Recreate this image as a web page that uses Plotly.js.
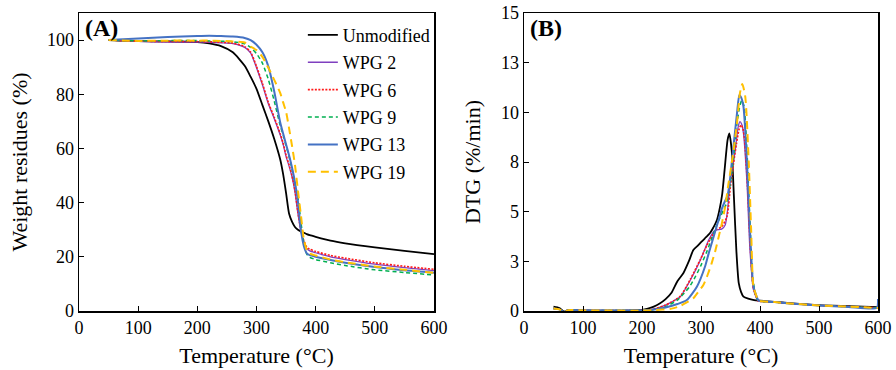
<!DOCTYPE html>
<html>
<head>
<meta charset="utf-8">
<script src="https://cdn.plot.ly/plotly-3.0.1.min.js"></script>
<style>html,body{margin:0;padding:0;background:#fff;}#chart{width:896px;height:370px;}</style>
</head>
<body>
<div id="chart"></div>
<script>
// ---------- Series names ----------
const seriesNames = ['Unmodified', 'WPG 2', 'WPG 6', 'WPG 9', 'WPG 13', 'WPG 19'];

// ---------- Panel A: TGA weight residues (%) ----------
const tgaTemp = [50, 100, 150, 200, 220, 240, 260, 280, 290, 300, 310, 320, 330, 340, 345, 350, 355, 360, 365, 370, 375, 380, 385, 390, 400, 425, 450, 500, 550, 600];
const tgaUnmod = [100, 99.6, 99.5, 99.3, 98.8, 97.8, 95.5, 90.5, 86.5, 82, 76, 70, 63.5, 56, 50.5, 43.5, 36, 33, 31, 30, 29.4, 28.9, 28.4, 28.0, 27.4, 26, 25, 23.5, 22.2, 21];
const tgaWpg2 = [100, 99.5, 99.3, 99.3, 99.2, 99, 98.7, 97.3, 95.3, 89.8, 83.5, 76.5, 71, 65, 61.5, 57, 53.5, 49.5, 44, 36, 29.5, 25.5, 23, 22.2, 21.5, 20, 19, 17.3, 16, 14.9];
const tgaWpg6 = [100, 99.6, 99.5, 99.5, 99.4, 99.2, 98.9, 97.6, 95.6, 90.3, 84, 77, 71.5, 65.5, 62, 57.5, 54, 50, 44.5, 36.5, 30, 26, 23.5, 22.8, 22, 20.5, 19.5, 17.8, 16.5, 15.4];
const tgaWpg9 = [100, 99.7, 99.8, 99.8, 99.7, 99.6, 99.4, 98.6, 97.3, 95, 91.5, 85.5, 77.5, 68.5, 65, 61, 57, 52.5, 47, 42, 33, 25, 21, 19.8, 19, 17.8, 16.8, 15.2, 14.2, 13.3];
const tgaWpg13 = [100, 100.6, 101.1, 101.5, 101.6, 101.5, 101.3, 100.8, 100, 98.3, 95.5, 90.3, 81, 69.7, 65.5, 61.5, 57.5, 53, 47.5, 40.5, 30, 24, 21.3, 20.6, 20, 18.8, 17.8, 16.2, 15, 14.1];
const tgaWpg19 = [100, 99.7, 99.8, 99.8, 99.8, 99.7, 99.5, 99.1, 97.6, 96.3, 93.8, 89.8, 85.3, 80.5, 77, 73.5, 67.5, 61, 54, 44.5, 35.5, 26.5, 22.5, 21.2, 20.5, 19, 18, 16.4, 15.2, 14.1];

// ---------- Panel B: DTG (%/min) ----------
const dtgUnmodT = [50, 60, 68, 75, 100, 150, 200, 210, 220, 230, 240, 250, 260, 270, 280, 287, 295, 301, 308, 315, 320, 327, 332, 336, 340, 345, 348, 352, 356, 360, 364, 368, 372, 380, 390, 400, 425, 450, 500, 550, 600];
const dtgUnmod = [0.22, 0.15, -0.03, 0.05, 0.03, 0.02, 0.06, 0.12, 0.22, 0.38, 0.6, 0.92, 1.5, 1.9, 2.55, 3.07, 3.3, 3.49, 3.7, 3.91, 4.15, 4.58, 5.2, 5.9, 7.1, 8.6, 8.94, 8.1, 5.6, 3.0, 1.4, 0.95, 0.72, 0.62, 0.55, 0.52, 0.46, 0.4, 0.3, 0.25, 0.2];

const dtgWpg2T = [50, 60, 68, 75, 100, 150, 200, 220, 240, 250, 265, 282, 299, 313, 322, 327, 335, 341, 345, 349, 354, 358, 363, 366, 369, 372, 378, 383, 389, 397, 400, 425, 450, 500, 550, 600];
const dtgWpg2 = [0.13, 0.08, -0.05, 0.04, 0.03, 0.02, 0.03, 0.1, 0.3, 0.45, 0.72, 1.56, 2.57, 3.57, 4.02, 4.08, 4.12, 4.33, 5.08, 6.42, 7.3, 8.1, 9.27, 9.53, 9.4, 8.94, 6.42, 3.07, 1.06, 0.5, 0.48, 0.45, 0.38, 0.28, 0.22, 0.16];

const dtgWpg6T = [50, 60, 68, 75, 100, 150, 200, 220, 240, 250, 265, 282, 299, 310, 318, 326, 335, 344, 350, 355, 360, 365, 368, 371, 374, 379, 384, 389, 397, 400, 425, 450, 500, 550, 600];
const dtgWpg6 = [0.12, 0.08, -0.05, 0.04, 0.03, 0.02, 0.03, 0.1, 0.3, 0.45, 0.75, 1.6, 2.6, 3.3, 3.74, 4.1, 4.24, 4.75, 6.3, 7.4, 8.4, 9.2, 9.36, 9.2, 8.6, 6.2, 3.0, 1.1, 0.5, 0.48, 0.45, 0.38, 0.28, 0.22, 0.16];

const dtgWpg9T = [50, 60, 68, 75, 100, 150, 200, 220, 240, 260, 280, 290, 300, 310, 320, 327, 333, 338, 343, 350, 355, 360, 365, 369, 373, 378, 383, 388, 395, 400, 425, 450, 500, 550, 600];
const dtgWpg9 = [0.12, 0.08, -0.05, 0.04, 0.03, 0.02, 0.03, 0.08, 0.22, 0.55, 1.2, 1.7, 2.3, 3.0, 3.8, 4.35, 4.75, 5.08, 5.4, 6.5, 7.7, 9.2, 10.2, 10.6, 10.3, 8.0, 4.5, 1.6, 0.6, 0.5, 0.45, 0.38, 0.28, 0.22, 0.15];

const dtgWpg13T = [50, 60, 68, 75, 100, 150, 200, 220, 240, 260, 276, 293, 307, 313, 318, 324, 330, 336, 341, 345, 349, 355, 361, 365, 368, 372, 378, 383, 389, 397, 400, 425, 450, 500, 550, 598, 600];
const dtgWpg13 = [0.12, 0.08, -0.05, 0.04, 0.03, 0.02, 0.03, 0.07, 0.18, 0.35, 0.55, 1.22, 2.25, 2.9, 3.4, 4.0, 4.6, 5.2, 5.55, 5.8, 6.59, 8.27, 9.95, 10.87, 10.75, 10.28, 7.43, 4.08, 1.22, 0.55, 0.5, 0.45, 0.38, 0.28, 0.2, 0.15, 0.6];

const dtgWpg19T = [50, 60, 68, 75, 100, 150, 200, 220, 250, 265, 275, 287, 295, 304, 311, 318, 324, 330, 336, 341, 346, 352, 357, 361, 366, 370, 375, 381, 385, 389, 397, 400, 425, 450, 500, 550, 600];
const dtgWpg19 = [0.12, 0.08, -0.05, 0.04, 0.03, 0.02, 0.02, 0.04, 0.12, 0.25, 0.42, 0.64, 0.95, 1.31, 1.8, 2.4, 3.0, 3.74, 4.5, 5.25, 6.3, 7.43, 8.5, 9.45, 10.96, 11.42, 10.79, 7.43, 4.08, 1.22, 0.55, 0.5, 0.45, 0.38, 0.28, 0.22, 0.15];

// Tick labels
const tgaTickVals = [0, 20, 40, 60, 80, 100];
const dtgTickVals = [0, 2.5, 5, 7.5, 10, 12.5, 15];
const dtgTickText = ['0', '3', '5', '8', '10', '13', '15'];

// ---------- Styles ----------
const colors = ['#000000', '#7F3FBF', '#FF1A1A', '#00B050', '#4472C4', '#FFC000'];
const widths = [1.8, 1.3, 1.6, 1.5, 2.0, 2.0];
const dashes = ['solid', 'solid', '2px,1.5px', '4px,3px', 'solid', '8px,5px'];

const tgaY = [tgaUnmod, tgaWpg2, tgaWpg6, tgaWpg9, tgaWpg13, tgaWpg19];
const dtgX = [dtgUnmodT, dtgWpg2T, dtgWpg6T, dtgWpg9T, dtgWpg13T, dtgWpg19T];
const dtgY = [dtgUnmod, dtgWpg2, dtgWpg6, dtgWpg9, dtgWpg13, dtgWpg19];

const FONT = 'Liberation Serif, Times New Roman, serif';
const traces = [];
seriesNames.forEach((n, i) => {
  traces.push({
    x: tgaTemp, y: tgaY[i], name: n, type: 'scatter', mode: 'lines',
    xaxis: 'x', yaxis: 'y', legendgroup: 'g' + i,
    line: {color: colors[i], width: widths[i], dash: dashes[i], shape: 'spline', smoothing: 0.6}
  });
});
seriesNames.forEach((n, i) => {
  traces.push({
    x: dtgX[i], y: dtgY[i], name: n, type: 'scatter', mode: 'lines',
    xaxis: 'x2', yaxis: 'y2', showlegend: false,
    line: {color: colors[i], width: widths[i], dash: dashes[i], shape: 'spline', smoothing: 0.6}
  });
});

const axisCommon = {
  showline: true, mirror: true, linecolor: '#000', linewidth: 1.5,
  ticks: 'inside', ticklen: 5, tickwidth: 1, tickcolor: '#000',
  showgrid: false, zeroline: false,
  tickfont: {family: FONT, size: 18, color: '#000'}
};

const layout = {
  width: 896, height: 370,
  margin: {l: 0, r: 0, t: 0, b: 0},
  paper_bgcolor: '#fff', plot_bgcolor: '#fff',
  font: {family: FONT, color: '#000'},
  showlegend: true,
  legend: {
    x: 0.338, y: 0.955, xanchor: 'left', yanchor: 'top',
    bgcolor: 'rgba(0,0,0,0)', font: {family: FONT, size: 18, color: '#000'},
    tracegroupgap: 1
  },
  xaxis: Object.assign({}, axisCommon, {
    domain: [79/896, 434/896], range: [0, 600], dtick: 100, tick0: 0, anchor: 'y',
    title: {text: 'Temperature (°C)', font: {family: FONT, size: 22, color: '#000'}, standoff: 10}
  }),
  yaxis: Object.assign({}, axisCommon, {
    domain: [59/370, 357/370], range: [0, 110], tickvals: tgaTickVals, anchor: 'x',
    title: {text: 'Weight residues (%)', font: {family: FONT, size: 22, color: '#000'}, standoff: 13}
  }),
  xaxis2: Object.assign({}, axisCommon, {
    domain: [524/896, 878/896], range: [0, 600], dtick: 100, tick0: 0, anchor: 'y2',
    title: {text: 'Temperature (°C)', font: {family: FONT, size: 22, color: '#000'}, standoff: 10}
  }),
  yaxis2: Object.assign({}, axisCommon, {
    domain: [59/370, 357/370], range: [0, 15], tickvals: dtgTickVals, ticktext: dtgTickText, anchor: 'x2',
    title: {text: 'DTG (%/min)', font: {family: FONT, size: 22, color: '#000'}, standoff: 14}
  }),
  annotations: [
    {text: '<b>(A)</b>', xref: 'x domain', yref: 'y domain', x: 0.012, y: 1.0, xanchor: 'left', yanchor: 'top', showarrow: false, font: {family: FONT, size: 24, color: '#000'}},
    {text: '<b>(B)</b>', xref: 'x2 domain', yref: 'y2 domain', x: 0.012, y: 1.0, xanchor: 'left', yanchor: 'top', showarrow: false, font: {family: FONT, size: 24, color: '#000'}}
  ]
};

Plotly.newPlot('chart', traces, layout, {staticPlot: true, displayModeBar: false});
</script>
</body>
</html>
